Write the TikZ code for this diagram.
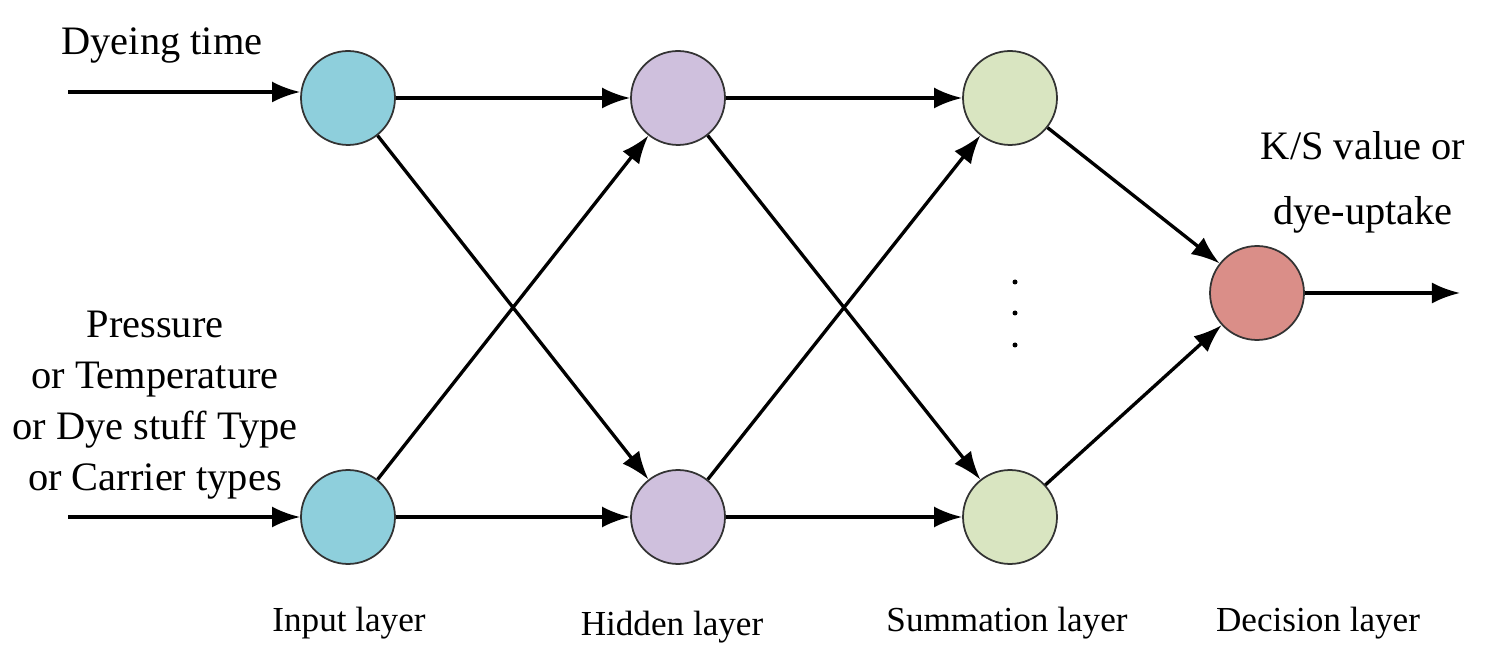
\documentclass[tikz,border=0pt]{standalone}
\usepackage{fontspec}
\setmainfont{Liberation Serif}
\usetikzlibrary{arrows.meta}
\begin{document}
\begin{tikzpicture}[x=0.02cm,y=-0.02cm,
  neuron/.style={circle,draw=black!80,line width=1pt,minimum size=1.88cm,inner sep=0pt},
  conn/.style={-{Latex[length=16pt,width=12pt]},line width=1.9pt},
  lbl/.style={font=\fontsize{23}{26}\selectfont},
  lay/.style={font=\fontsize{20}{24}\selectfont}]
\useasboundingbox (0,0) rectangle (1490,661);
\definecolor{cin}{HTML}{8ECFDC}
\definecolor{chid}{HTML}{CFC0DD}
\definecolor{csum}{HTML}{D9E5C1}
\definecolor{cdec}{HTML}{DA8E88}
\node[neuron,fill=cin] (i1) at (348,98) {};
\node[neuron,fill=cin] (i2) at (348,517) {};
\node[neuron,fill=chid] (h1) at (678,98) {};
\node[neuron,fill=chid] (h2) at (678,517) {};
\node[neuron,fill=csum] (s1) at (1010,98) {};
\node[neuron,fill=csum] (s2) at (1010,517) {};
\node[neuron,fill=cdec] (d) at (1257,293) {};
\coordinate (a1) at (68,92);
\coordinate (a2) at (68,517);
\coordinate (o) at (1460,293);
\draw[conn] (a1) -- (i1.west |- a1);
\draw[conn] (a2) -- (i2);
\foreach \a/\b in {i1/h1,i1/h2,i2/h1,i2/h2,h1/s1,h1/s2,h2/s1,h2/s2,s1/d,s2/d}
  \draw[conn] (\a) -- (\b);
\draw[conn] (d) -- (o);
\node[lbl] (t1) at (162,45) {Dyeing time};
\node[font=\fontsize{23}{29}\selectfont,align=center] (t2) at (155,405) {Pressure\\or Temperature\\or Dye stuff Type\\or Carrier types};
\node[font=\fontsize{23}{37}\selectfont,align=center] (t3) at (1363,182) {K/S value or\\dye-uptake};
\foreach \y [count=\k] in {282,313,345} \fill (1015,\y) circle (2.5) coordinate (dot\k);
\node[lay] (l1) at (349,623) {Input layer};
\node[lay] (l2) at (672,627) {Hidden layer};
\node[lay] (l3) at (1007,623) {Summation layer};
\node[lay] (l4) at (1318,623) {Decision layer};
\end{tikzpicture}
\end{document}
